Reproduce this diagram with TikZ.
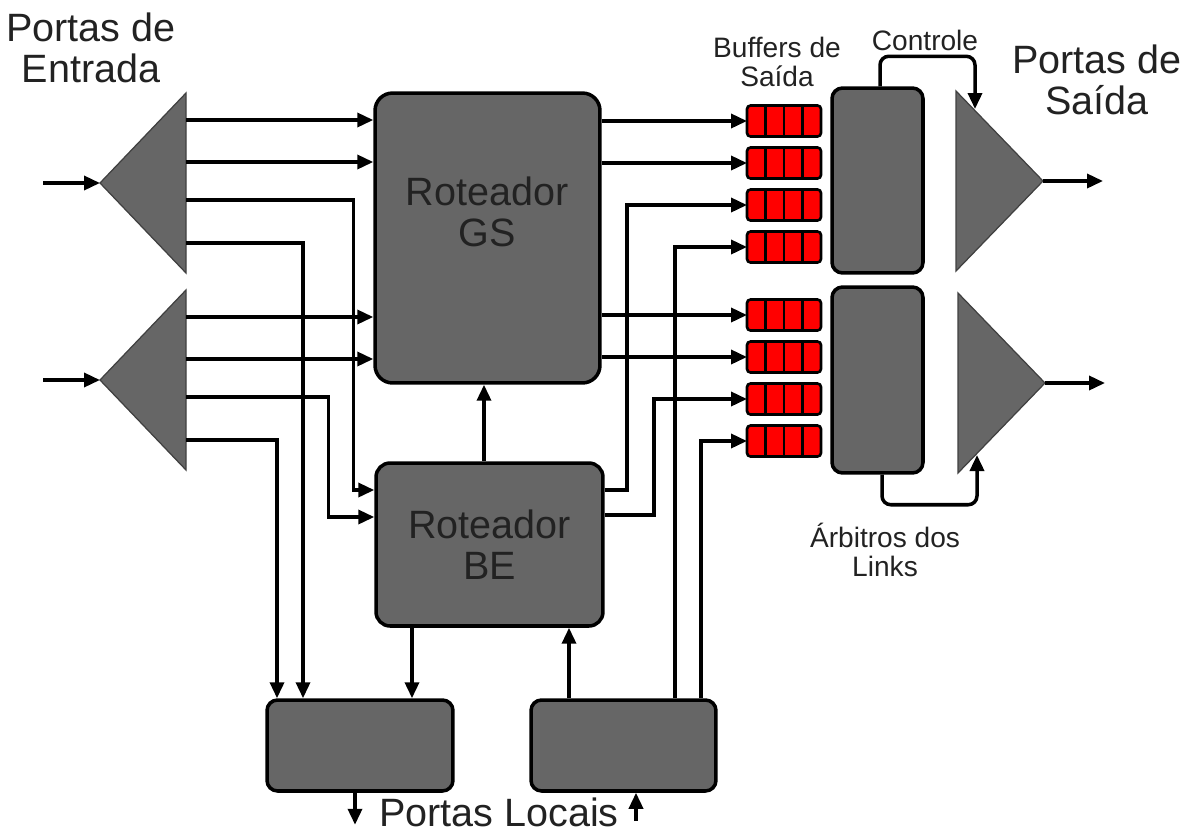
\documentclass[tikz,border=0pt]{standalone}
\usepackage{fontspec}
\setmainfont{Liberation Sans}
\usetikzlibrary{arrows.meta}
\definecolor{blockgray}{HTML}{666666}
\definecolor{labelink}{HTML}{222222}
\begin{document}
\begin{tikzpicture}[x=0.02cm,y=-0.02cm,
  big/.style={font=\fontsize{22.5}{23.5}\selectfont,text=labelink,align=center,inner sep=0pt},
  small/.style={font=\fontsize{16}{16.5}\selectfont,text=labelink,align=center,inner sep=0pt},
  block/.style={draw=black,fill=blockgray,line width=2pt,rounded corners=6pt},
  bufbox/.style={draw=black,fill=red,line width=1.5pt,rounded corners=2pt,outer sep=0pt,
    minimum width=1.48cm,minimum height=0.62cm,inner sep=0pt},
  port/.style={draw=black!75,fill=blockgray,line width=0.7pt},
  arr/.style={line width=2pt,-{Triangle[length=0.32cm,width=0.28cm]}}]
  \useasboundingbox (0,0) rectangle (1186,832);
  % roteadores e blocos locais
  \node[block,rounded corners=10pt,minimum width=4.5cm,minimum height=5.8cm] (gs) at (487.5,238) {};
  \node[big] (gslabel) at (487,212) {Roteador\\GS};
  \node[block,rounded corners=8pt,minimum width=4.54cm,minimum height=3.26cm,big] (be) at (489.5,544.5) {Roteador\\BE};
  \node[block,minimum width=3.72cm,minimum height=1.82cm] (lout) at (360,745.5) {};
  \node[block,minimum width=3.7cm,minimum height=1.82cm] (lin) at (623.5,745.5) {};
  \node[block,minimum width=1.82cm,minimum height=3.7cm] (arb1) at (877.5,180.5) {};
  \node[block,minimum width=1.82cm,minimum height=3.72cm] (arb2) at (877.5,380) {};
  % buffers
  \foreach \n/\y in {1/121,2/163,3/205,4/247,5/315,6/357,7/399,8/441} {
    \node[bufbox] (buf\n) at (784,\y) {};
    \foreach \k in {1,2,3}
      \draw[line width=1.5pt] ([xshift=\k*0.37cm]buf\n.north west) -- ([xshift=\k*0.37cm]buf\n.south west);
  }
  % portas de entrada
  \foreach \n/\y in {1/183,2/380} {
    \draw[port] (186,\y-90) -- (186,\y+90) -- (100,\y) -- cycle;
    \coordinate (inp\n) at (100,\y);
    \coordinate (src\n) at (43,\y);
    \coordinate (t\n-a) at (186,\y-63);
    \coordinate (t\n-b) at (186,\y-21);
    \coordinate (t\n-c) at (186,\y+17);
    \coordinate (t\n-d) at (186,\y+60);
    \draw[arr] (src\n) -- (inp\n);
  }
  % portas de saida
  \foreach \n/\y/\x in {1/181/956,2/383/958} {
    \draw[port] (\x,\y-90) -- (\x,\y+90) -- (\x+87,\y) -- cycle;
    \coordinate (outp\n) at (\x+87,\y);
    \coordinate (dst\n) at (\x+147,\y);
    \draw[arr] (outp\n) -- (dst\n);
  }
  \coordinate (ctl) at (975,109);
  \coordinate (arbin) at (977,455);
  \coordinate (lsrc) at (636,821);
  % ligacoes
  \draw[arr] (t1-a) -- (gs.west |- t1-a);
  \draw[arr] (t1-b) -- (gs.west |- t1-b);
  \draw[arr] (t2-a) -- (gs.west |- t2-a);
  \draw[arr] (t2-b) -- (gs.west |- t2-b);
  \draw[arr] (t1-c) -| ([xshift=-0.42cm,yshift=1.09cm]be.west) -- ([yshift=1.09cm]be.west);
  \draw[arr] (t2-c) -| ([xshift=-0.92cm,yshift=0.55cm]be.west) -- ([yshift=0.55cm]be.west);
  \draw[arr] (t1-d) -| ([xshift=-1.14cm]lout.north);
  \draw[arr] (t2-d) -| ([xshift=-1.66cm]lout.north);
  \draw[arr] ([xshift=1.04cm]lout.north |- be.south) -- ([xshift=1.04cm]lout.north);
  \draw[arr] ([xshift=-1.09cm]lin.north) -- ([xshift=-1.09cm]lin.north |- be.south);
  \draw[arr] ([xshift=-0.11cm]be.north) -- ([xshift=-0.11cm]be.north |- gs.south);
  \draw[arr] ([xshift=1.03cm]lin.north) |- (buf4.west);
  \draw[arr] ([xshift=1.55cm]lin.north) |- (buf8.west);
  \draw[arr] ([yshift=1.09cm]be.east) -- ++(22,0) |- (buf3.west);
  \draw[arr] ([yshift=0.59cm]be.east) -- ++(49,0) |- (buf7.west);
  \foreach \n in {1,2,5,6}
    \draw[arr] (gs.east |- buf\n) -- (buf\n.west);
  \draw[arr,rounded corners=5pt] ([xshift=0.05cm]arb1.north) -- ++(0,-30) -| (ctl);
  \draw[arr,rounded corners=5pt] ([xshift=0.09cm]arb2.south) -- ++(0,30) -| (arbin);
  \draw[arr] ([xshift=-0.1cm]lout.south) -- ++(0,32);
  \draw[arr] (lsrc) -- (lsrc |- lin.south);
  % rotulos
  \node[big] (entlabel) at (91,48) {Portas de\\Entrada};
  \node[big] (saidlabel) at (1097,80) {Portas de\\Saída};
  \node[small] (buflabel) at (777,62) {Buffers de\\Saída};
  \node[small] (ctllabel) at (925,40) {Controle};
  \node[small] (arblabel) at (885,550) {Árbitros dos\\Links};
  \node[big] (loclabel) at (499,812) {Portas Locais};
\end{tikzpicture}
\end{document}
